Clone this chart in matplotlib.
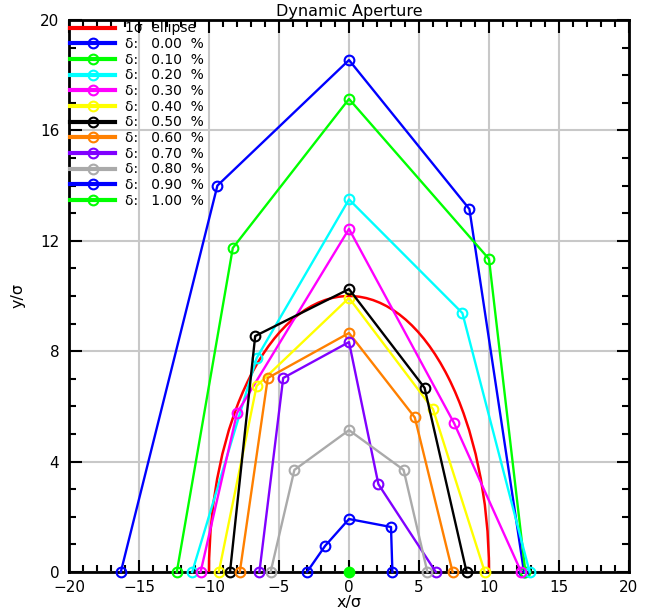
import matplotlib
matplotlib.use("Agg")
import matplotlib.pyplot as plt
from matplotlib import patches as mp
from matplotlib.lines import Line2D
from matplotlib.ticker import MultipleLocator

# momentum deviations (%) and the aperture boundary found for each one
deltas = [0.00, 0.10, 0.20, 0.30, 0.40, 0.50, 0.60, 0.70, 0.80, 0.90, 1.00]
colors = ['#0000ff', '#00ff00', '#00ffff', '#ff00ff', '#ffff00', '#000000',
          '#ff8000', '#8000ff', '#aaaaaa', '#0000ff', '#00ff00']

x_da = [
    [-16.3, -9.4, 0.0, 8.6, 12.5],
    [-12.3, -8.3, 0.0, 10.0, 12.6],
    [-11.2, -6.6, 0.0, 8.1, 12.9],
    [-10.6, -8.0, 0.0, 7.5, 12.3],
    [-9.3, -6.6, 0.0, 6.0, 9.7],
    [-8.5, -6.7, 0.0, 5.4, 8.4],
    [-7.8, -5.8, 0.0, 4.7, 7.4],
    [-6.4, -4.7, 0.0, 2.1, 6.2],
    [-5.6, -3.9, 0.0, 3.9, 5.6],
    [-3.0, -1.7, 0.0, 3.0, 3.1],
    [0.0],
]
y_da = [
    [0.0, 14.0, 18.55, 13.15, 0.0],
    [0.0, 11.74, 17.14, 11.34, 0.0],
    [0.0, 7.75, 13.5, 9.38, 0.0],
    [0.0, 5.76, 12.43, 5.4, 0.0],
    [0.0, 6.74, 9.93, 5.9, 0.0],
    [0.0, 8.55, 10.25, 6.67, 0.0],
    [0.0, 7.03, 8.66, 5.6, 0.0],
    [0.0, 7.03, 8.33, 3.18, 0.0],
    [0.0, 3.7, 5.14, 3.7, 0.0],
    [0.0, 0.95, 1.92, 1.63, 0.0],
    [0.0],
]

# 1 sigma beam ellipse (semi axes in units of sigma)
ell_a = 10.0
ell_b = 10.0

plt.rcParams['font.family'] = ['DejaVu Sans']
fig = plt.figure(figsize=(6.71, 6.16), dpi=100)
ax = fig.add_axes([69 / 671, 44 / 616, 560 / 671, 552 / 616])

ax.add_patch(mp.Arc((0, 0), 2 * ell_a, 2 * ell_b, theta1=0, theta2=180,
                    color='#ff0000', lw=1.8, zorder=3))

handles = [Line2D([], [], color='#ff0000', lw=3)]
labels = ['1σ  ellipse']
for d, c, xs, ys in zip(deltas, colors, x_da, y_da):
    filled = len(xs) == 1
    ax.plot(xs, ys, '-o', color=c, lw=1.7, ms=7, mew=1.5,
            mfc=c if filled else 'none', zorder=4, clip_on=False)
    handles.append(Line2D([], [], color=c, lw=3, marker='o', ms=7, mew=1.5,
                          mfc='none'))
    labels.append('δ:   %.2f  %%' % d)

ax.set_xlim(-20, 20)
ax.set_ylim(0, 20)
ax.xaxis.set_major_locator(MultipleLocator(5))
ax.xaxis.set_minor_locator(MultipleLocator(1))
ax.yaxis.set_major_locator(MultipleLocator(4))
ax.yaxis.set_minor_locator(MultipleLocator(1))
ax.grid(True, which='major', color='#c8c8c8', lw=1.5, zorder=0)
ax.set_axisbelow(True)
ax.tick_params(which='both', direction='in', top=True, right=True,
               width=1.5, labelsize=11)
ax.tick_params(which='major', length=9)
ax.tick_params(which='minor', length=5)
ax.tick_params(axis='x', pad=6)
ax.tick_params(axis='y', pad=7)
for s in ax.spines.values():
    s.set_linewidth(2)

ax.set_title('Dynamic Aperture', fontsize=11.5, pad=3)
ax.set_xlabel('x/σ', fontsize=11.5, labelpad=0)
ax.set_ylabel('y/σ', fontsize=11.5, labelpad=10)

ax.legend(handles, labels, loc='upper left', frameon=False, fontsize=10,
          labelspacing=0.12, handlelength=3.2, handletextpad=0.7,
          borderpad=0, borderaxespad=0.1, numpoints=1)

fig.savefig('out.png', dpi=100)
